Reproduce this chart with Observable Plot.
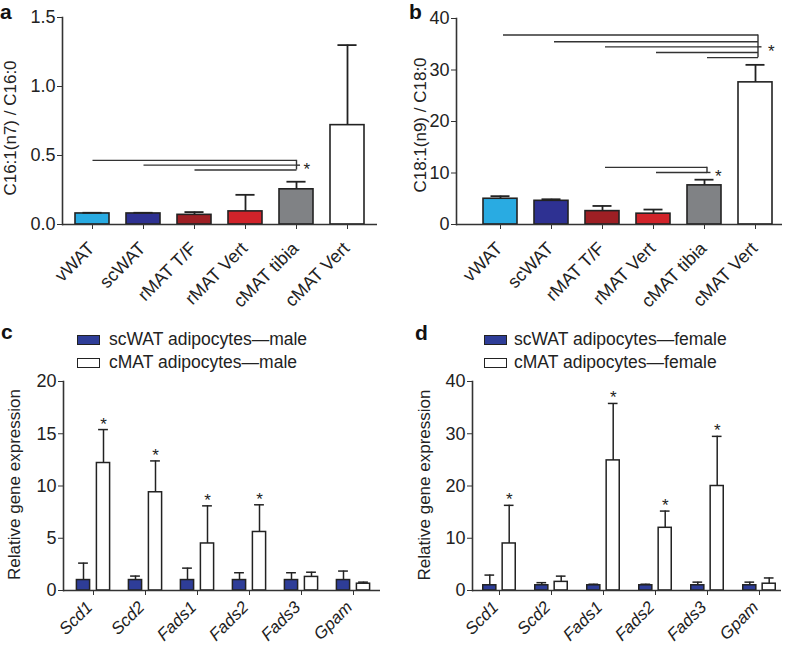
<!DOCTYPE html>
<html><head><meta charset="utf-8">
<script src="https://cdn.jsdelivr.net/npm/d3@7"></script>
<script src="https://cdn.jsdelivr.net/npm/@observablehq/plot@0.6"></script>
<style>
body{margin:0;background:#fff;font-family:"Liberation Sans",Arial,Helvetica,sans-serif;}
#wrap{position:relative;width:788px;height:646px;overflow:hidden;background:#fff;}
.panel{position:absolute;width:394px;height:323px;}
.panel svg{position:absolute;left:0;top:0;}
.letter{position:absolute;font-weight:bold;font-size:21px;line-height:normal;color:#111;}
.legend{position:absolute;font-size:17.5px;color:#222;}
.legend .row{display:flex;align-items:center;height:23px;white-space:nowrap;}
.sw{width:21px;height:8px;border:1.5px solid #222;box-sizing:content-box;}
</style></head><body>
<div id="wrap"></div>
<script>
// ---------- data ----------
const tissues = ["vWAT", "scWAT", "rMAT T/F", "rMAT Vert", "cMAT tibia", "cMAT Vert"];
const tissueColors = ["#29abe2", "#2e3192", "#9e1f24", "#d1232a", "#808285", "#ffffff"];
const ratioA = [0.08, 0.08, 0.07, 0.095, 0.255, 0.72];
const semA = [0.005, 0.005, 0.02, 0.12, 0.055, 0.58];
const ratioB = [5.0, 4.6, 2.6, 2.1, 7.6, 27.6];
const semB = [0.5, 0.3, 1.0, 0.8, 1.1, 3.4];

const bracketFromA = ["vWAT", "scWAT", "rMAT T/F"];
const bracketToA = "cMAT tibia";
const bracketLevelA = [0.465, 0.43, 0.395];

const bracketFromB1 = ["vWAT", "scWAT", "rMAT T/F", "rMAT Vert", "cMAT tibia"];
const bracketToB1 = "cMAT Vert";
const bracketLevelB1 = [36.8, 35.5, 34.5, 33.4, 32.4];
const bracketFromB2 = ["rMAT T/F", "rMAT Vert"];
const bracketToB2 = "cMAT tibia";
const bracketLevelB2 = [11.1, 10.1];

const genes = ["Scd1", "Scd2", "Fads1", "Fads2", "Fads3", "Gpam"];
const scMaleMean = [1, 1, 1, 1, 1, 1];
const scMaleSem = [1.62, 0.38, 1.14, 0.7, 0.7, 0.86];
const cMaleMean = [12.2, 9.4, 4.5, 5.6, 1.3, 0.65];
const cMaleSem = [3.2, 3.0, 3.6, 2.6, 0.45, 0.15];
const maleSig = [true, true, true, true, false, false];

const scFemaleMean = [1, 1, 1, 1, 1, 1];
const scFemaleSem = [1.95, 0.5, 0.2, 0.2, 0.6, 0.6];
const cFemaleMean = [9.0, 1.65, 24.9, 12.0, 20.0, 1.3];
const cFemaleSem = [7.3, 1.1, 10.9, 3.2, 9.5, 1.1];
const femaleSig = [true, false, true, true, true, false];

const ticksA = [0, 0.5, 1.0, 1.5];
const ticksB = [0, 10, 20, 30, 40];
const ticksC = [0, 5, 10, 15, 20];
const ticksD = [0, 10, 20, 30, 40];

const labelA = "C16:1(n7) / C16:0";
const labelB = "C18:1(n9) / C18:0";
const labelCD = "Relative gene expression";
const legendC = ["scWAT adipocytes\u2014male", "cMAT adipocytes\u2014male"];
const legendD = ["scWAT adipocytes\u2014female", "cMAT adipocytes\u2014female"];
const groupColors = ["#2e3d98", "#ffffff"];

// ---------- helpers ----------
const INK = "#222";
const FONT = '"Liberation Sans", Arial, Helvetica, sans-serif';
const wrap = document.getElementById("wrap");

function panel(left, top) {
  const d = document.createElement("div");
  d.className = "panel";
  d.style.left = left + "px";
  d.style.top = top + "px";
  wrap.appendChild(d);
  return d;
}
function letter(p, txt, x, y) {
  const s = document.createElement("div");
  s.className = "letter";
  s.textContent = txt;
  s.style.left = x + "px";
  s.style.top = y + "px";
  p.appendChild(s);
}
function legend(p, labels, x, y, gap) {
  const L = document.createElement("div");
  L.className = "legend";
  L.style.left = x + "px";
  L.style.top = y + "px";
  labels.forEach((lab, i) => {
    const r = document.createElement("div");
    r.className = "row";
    const sw = document.createElement("div");
    sw.className = "sw";
    sw.style.background = groupColors[i];
    sw.style.marginRight = gap + "px";
    const t = document.createElement("span");
    t.textContent = lab;
    r.appendChild(sw); r.appendChild(t);
    L.appendChild(r);
  });
  p.appendChild(L);
}

function tissuePlot(cfg) {
  const data = tissues.map((t, i) => ({t, v: cfg.mean[i], e: cfg.mean[i] + cfg.sem[i], c: tissueColors[i]}));
  const bw = cfg.bw;
  const marks = [
    Plot.barY(data, {x: "t", y: "v", fill: "c", stroke: INK, strokeWidth: 1.6}),
    Plot.ruleX(data, {x: "t", y1: "v", y2: "e", stroke: INK, strokeWidth: 1.8}),
    Plot.tickY(data, {x: "t", y: "e", stroke: INK, strokeWidth: 1.8, insetLeft: (bw - 19) / 2, insetRight: (bw - 19) / 2}),
    Plot.ruleY([0], {stroke: "#333", strokeWidth: 1.6}),
    Plot.frame({anchor: "left", stroke: "#333", strokeWidth: 1.6}),
    Plot.axisY({ticks: cfg.ticks, tickFormat: cfg.fmt, tickSize: 5, tickPadding: 2, stroke: "#333", fontSize: 18, label: null}),
    Plot.axisX({tickSize: 5, tickFormat: () => "", stroke: "#333", label: null}),
    Plot.text(tissues, {x: d => d, text: d => d, frameAnchor: "bottom", rotate: -45, textAnchor: "end", lineAnchor: "middle", dy: 21, dx: -1, fontSize: 18, fill: INK}),
    Plot.text([cfg.label], {frameAnchor: "left", textAnchor: "middle", lineAnchor: "middle", rotate: -90, dx: cfg.ldx, dy: cfg.ldy, fontSize: 17, text: d => d, fill: INK})
  ];
  for (const br of cfg.brackets) {
    const rows = br.from.map((f, i) => ({f, to: br.to, y: br.levels[i]}));
    const lo = Math.min(...br.levels), hi = Math.max(...br.levels);
    const mid = br.levels[Math.floor(br.levels.length / 2)];
    marks.push(
      Plot.link(rows, {x1: "f", x2: "to", y1: "y", y2: "y", stroke: "#333", strokeWidth: 1.4, dx: br.shift}),
      Plot.ruleX([{to: br.to, lo, hi}], {x: "to", y1: "lo", y2: "hi", stroke: "#333", strokeWidth: 1.4, dx: br.shift}),
      Plot.tickY([{to: br.to, y: mid}], {x: "to", y: "y", stroke: "#333", strokeWidth: 1.4, dx: br.shift, insetLeft: bw / 2, insetRight: bw / 2 - 4}),
      Plot.text([{to: br.to, y: mid}], {x: "to", y: "y", text: () => "*", dx: br.shift + br.starDx, dy: 10, textAnchor: "start", lineAnchor: "bottom", fontSize: 17, fill: INK})
    );
  }
  return Plot.plot({
    width: 394, height: 323,
    marginLeft: cfg.ml, marginRight: cfg.mr, marginTop: cfg.mt, marginBottom: 99,
    style: {fontFamily: FONT, fontSize: "17px", color: INK, background: "transparent", overflow: "visible"},
    x: {type: "band", domain: tissues, range: cfg.xr, paddingInner: 0.34, paddingOuter: 0.17},
    y: {domain: cfg.ydom},
    marks
  });
}

function genePlot(cfg) {
  const step = (cfg.xr[1] - cfg.xr[0]) / genes.length;
  const inset = (step - 13.4) / 2;
  const capInset = (step - 10) / 2;
  const groups = [
    genes.map((g, i) => ({g, v: cfg.scMean[i], e: cfg.scMean[i] + cfg.scSem[i]})),
    genes.map((g, i) => ({g, v: cfg.cMean[i], e: cfg.cMean[i] + cfg.cSem[i], s: cfg.sig[i]}))
  ];
  const marks = [];
  groups.forEach((data, k) => {
    const dx = k === 0 ? -cfg.off : cfg.off;
    marks.push(
      Plot.barY(data, {x: "g", y: "v", fill: groupColors[k], stroke: INK, strokeWidth: 1.5, dx, insetLeft: inset, insetRight: inset}),
      Plot.ruleX(data, {x: "g", y1: "v", y2: "e", stroke: INK, strokeWidth: 1.5, dx}),
      Plot.tickY(data, {x: "g", y: "e", stroke: INK, strokeWidth: 1.5, dx, insetLeft: capInset, insetRight: capInset})
    );
    if (k === 1) {
      marks.push(Plot.text(data.filter(d => d.s), {x: "g", y: "e", text: () => "*", dx, dy: 0, lineAnchor: "bottom", fontSize: 17, fill: INK}));
    }
  });
  marks.push(
    Plot.ruleY([0], {stroke: "#333", strokeWidth: 1.6}),
    Plot.frame({anchor: "left", stroke: "#333", strokeWidth: 1.6}),
    Plot.axisY({ticks: cfg.ticks, tickSize: 5, tickPadding: 2, stroke: "#333", fontSize: 18, label: null}),
    Plot.axisX({tickSize: 5, tickFormat: () => "", stroke: "#333", label: null}),
    Plot.text(genes, {x: d => d, text: d => d, frameAnchor: "bottom", rotate: -45, textAnchor: "end", lineAnchor: "middle", dy: 14, dx: -4, fontSize: 17, fontStyle: "italic", fill: INK}),
    Plot.text([labelCD], {frameAnchor: "left", textAnchor: "middle", lineAnchor: "middle", rotate: -90, dx: cfg.ldx, dy: cfg.ldy, fontSize: 17, text: d => d, fill: INK})
  );
  return Plot.plot({
    width: 394, height: 323,
    marginLeft: cfg.ml, marginRight: cfg.mr, marginTop: 58, marginBottom: 56,
    style: {fontFamily: FONT, fontSize: "17px", color: INK, background: "transparent", overflow: "visible"},
    x: {type: "band", domain: genes, range: cfg.xr, padding: 0},
    y: {domain: cfg.ydom},
    marks
  });
}

// ---------- panels ----------
const pA = panel(0, 0);
pA.appendChild(tissuePlot({
  mean: ratioA, sem: semA, ticks: ticksA, fmt: d3.format(".1f"), ydom: [0, 1.5],
  ml: 62, mr: 17, mt: 17, xr: [65.3, 373.7], bw: 33.9,
  label: labelA, ldx: -52, ldy: 7,
  brackets: [{from: bracketFromA, to: bracketToA, levels: bracketLevelA, shift: 0, starDx: 7}]
}));
letter(pA, "a", 0, 0);

const pB = panel(394, 0);
pB.appendChild(tissuePlot({
  mean: ratioB, sem: semB, ticks: ticksB, fmt: d3.format("d"), ydom: [0, 40],
  ml: 62, mr: 6, mt: 18, xr: [78.2, 387.8], bw: 34,
  label: labelB, ldx: -35.5, ldy: 3.5,
  brackets: [
    {from: bracketFromB1, to: bracketToB1, levels: bracketLevelB1, shift: 2.5, starDx: 10},
    {from: bracketFromB2, to: bracketToB2, levels: bracketLevelB2, shift: 2.5, starDx: 8}
  ]
}));
letter(pB, "b", 15, 0);

const pC = panel(0, 323);
pC.appendChild(genePlot({
  scMean: scMaleMean, scSem: scMaleSem, cMean: cMaleMean, cSem: cMaleSem, sig: maleSig,
  ticks: ticksC, ydom: [0, 20], ml: 63, mr: 14, xr: [65.9, 379.1], off: 10,
  ldx: -49, ldy: -1.5
}));
letter(pC, "c", 1, -3);
legend(pC, legendC, 77, 5, 9);

const pD = panel(394, 323);
pD.appendChild(genePlot({
  scMean: scFemaleMean, scSem: scFemaleSem, cMean: cFemaleMean, cSem: cFemaleSem, sig: femaleSig,
  ticks: ticksD, ydom: [0, 40], ml: 78, mr: 7, xr: [78.3, 392.2], off: 9.7,
  ldx: -47.7, ldy: -1
}));
letter(pD, "d", 21, -2);
legend(pD, legendD, 90, 5, 7);
</script>
</body></html>
